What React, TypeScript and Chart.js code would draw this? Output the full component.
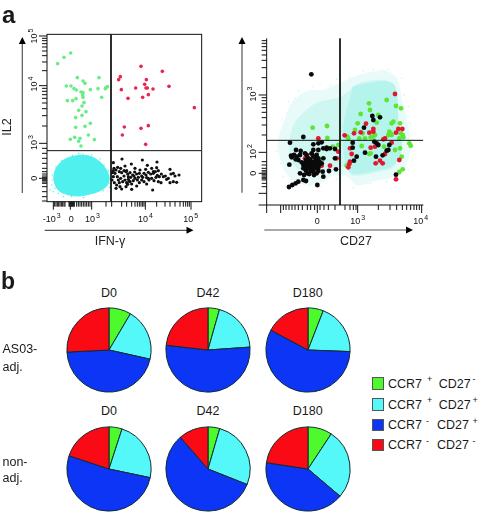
import React, { useEffect, useRef } from "react";
import { Chart, registerables } from "chart.js";

Chart.register(...registerables);

type P = [number, number];

// Values are display channels of the flow-cytometry plots (biexponential axes)
const IFN_LIL_GREEN: P[] = [[212,159],[192,172],[173,191],[232,233],[297,233],[249,243],[255,250],[199,258],[213,258],[222,266],[229,270],[271,269],[294,266],[316,266],[322,260],[318,263],[243,276],[249,278],[248,285],[249,292],[305,292],[228,296],[202,302],[218,302],[252,308],[246,318],[236,331],[258,335],[246,346],[227,353],[271,370],[255,379],[227,382],[265,405],[211,418],[224,412],[240,415],[236,424],[283,419],[243,438]];
const IFN_LIL_RED: P[] = [[423,199],[487,214],[361,230],[356,239],[439,239],[434,253],[507,259],[407,264],[438,264],[442,264],[459,267],[364,269],[445,284],[428,292],[384,295],[583,323],[373,381],[445,377],[423,385],[367,405],[437,433]];
const IFN_LIL_BLACK: P[] = [[340,512],[345,520],[340,530],[336,540],[343,548],[348,565],[360,560],[352,530],[358,515],[365,518],[372,512],[378,515],[383,522],[390,518],[398,525],[404,516],[410,522],[418,520],[425,528],[432,520],[438,525],[445,517],[452,522],[460,520],[466,515],[472,526],[478,530],[484,522],[490,530],[496,528],[500,538],[510,548],[520,545],[530,547],[505,535],[513,522],[525,528],[348,510],[355,540],[362,535],[368,545],[375,540],[380,548],[385,538],[390,545],[395,552],[400,542],[405,535],[412,540],[418,548],[425,540],[432,545],[440,552],[447,540],[455,535],[462,542],[468,532],[475,545],[483,548],[458,570],[395,568],[378,560],[365,567],[410,558],[385,530],[372,528],[392,532],[402,528],[415,532],[428,532],[358,548],[350,555],[337,518],[342,505],[362,505],[420,510],[437,508],[455,505],[470,503],[340,488],[366,477],[394,492],[427,480],[471,486],[353,502],[375,498],[405,505],[380,512],[442,496],[510,508],[520,520],[537,525],[460,515],[475,512],[445,535],[388,544],[383,553],[440,533]];
const IFN_LIL_CYAN_OUTLINE: P[] = [[240,465],[270,469],[295,482],[315,503],[327,530],[322,555],[300,572],[270,582],[235,588],[200,583],[175,570],[163,545],[163,520],[175,495],[200,475]];
const IFN_LIL_CYAN_STRAY: P[] = [[150,570],[155,555],[323,515],[330,550],[236,460],[300,477],[190,590],[158,540],[330,535],[250,462],[285,578],[160,575],[215,590],[326,512],[157,525],[168,500],[185,482],[218,466],[275,465],[312,495],[333,525],[328,562],[310,572],[250,593],[175,580],[165,565]];

const CD27_CCR7_CLOUD_OUTER: P[] = [[490,150],[520,165],[535,190],[545,240],[560,300],[570,370],[555,440],[520,470],[470,480],[410,495],[385,470],[340,465],[300,490],[240,490],[200,460],[180,410],[175,360],[195,300],[215,250],[260,215],[310,210],[360,190],[420,165]];
const CD27_CCR7_CLOUD_MID: P[] = [[490,180],[520,195],[530,250],[535,330],[545,380],[520,440],[470,455],[400,465],[375,440],[345,440],[300,455],[240,450],[215,420],[210,360],[225,310],[250,280],[290,250],[330,240],[365,230],[420,190]];
const CD27_CCR7_CLOUD_DENSE: P[] = [[400,200],[490,185],[525,200],[535,330],[545,380],[520,435],[470,450],[400,460],[380,440],[370,330]];
const CD27_CCR7_CLOUD_STRAY: P[] = [[170,395],[185,300],[205,245],[235,212],[300,195],[350,178],[430,152],[505,148],[545,175],[565,260],[580,380],[565,450],[500,485],[400,503],[300,500],[230,497],[190,470],[190,350],[200,280],[225,235],[280,200],[330,195],[390,172],[460,148],[530,175],[552,225],[570,310],[577,420],[540,462],[450,490],[350,478],[270,497],[215,478],[182,430]];
const CD27_CCR7_BLACK: P[] = [[210,368],[250,351],[228,390],[242,393],[213,407],[230,410],[235,420],[227,418],[208,434],[255,400],[260,405],[280,373],[295,370],[305,367],[280,390],[295,390],[310,385],[320,383],[330,385],[275,400],[290,405],[295,415],[280,410],[265,415],[270,425],[280,425],[290,430],[260,430],[250,435],[255,440],[265,440],[275,445],[285,445],[295,443],[245,427],[310,415],[305,430],[280,455],[290,460],[310,470],[262,460],[252,465],[240,460],[250,480],[258,483],[235,485],[227,490],[217,495],[207,501],[292,495],[327,453],[348,448],[345,415],[308,455],[270,435],[258,420],[300,433],[288,419],[273,435],[320,387],[345,387],[274,163],[457,288],[460,300],[480,292],[432,323],[398,368],[398,383],[463,365],[470,370],[475,375],[508,375],[505,390],[500,392],[488,406],[468,410],[435,398],[410,410],[402,422],[528,464],[262,437],[268,430],[275,432],[283,438],[262,445],[272,452],[280,442],[290,437],[298,425],[285,410],[270,418],[256,428],[250,445],[258,452],[282,465],[295,453],[268,462],[215,412],[222,405],[240,405]];
const CD27_CCR7_RED: P[] = [[525,222],[438,311],[422,337],[402,340],[374,346],[460,327],[460,335],[448,338],[535,327],[547,327],[528,338],[515,368],[495,355],[490,358],[465,380],[452,383],[390,385],[395,402],[390,425],[388,432],[385,442],[480,422],[488,430],[467,430],[495,402],[538,420],[528,478],[295,355],[255,415],[260,410],[275,403],[355,395],[350,415],[330,437],[305,437]];
const CD27_CCR7_GREEN: P[] = [[500,240],[447,250],[450,270],[528,258],[543,265],[422,282],[475,285],[470,308],[413,310],[515,310],[520,305],[540,310],[405,330],[428,340],[460,350],[508,335],[512,340],[505,345],[542,340],[548,345],[418,355],[435,355],[452,352],[465,345],[538,355],[550,352],[568,370],[572,377],[425,378],[492,380],[525,390],[540,385],[382,350],[385,355],[545,410],[548,448],[538,456],[380,437],[452,400],[448,402],[515,345],[278,323],[321,318],[322,354],[300,420],[338,380],[355,375]];

const IFN_X_MAJOR = [160, 211, 275, 436, 573];
const IFN_X_MINOR = [164,168,172,176,180,184,188,192,195,207,209,213,215,217,219,221,223,230,235,240,245,250,255,260,265,270,318,335,365,380,395,405,412,418,423,428,432,470,495,510,525,540,550,557,563,568];
const IFN_X_LABELS: [number, string, string][] = [[155, "-10", "3"], [214, "0", ""], [277, "10", "3"], [436, "10", "4"], [572, "10", "5"]];
const IL2_Y_MAJOR = [108, 257, 430, 535];
const IL2_Y_MINOR = [115,122,131,141,153,167,186,212,265,274,284,295,309,326,347,378,445,460,475,490,505,515,522,528,532,538,542,546,550,560,575,590,603];
const IL2_Y_LABELS: [number, string, string][] = [[108, "10", "5"], [252, "10", "4"], [428, "10", "3"], [535, "0", ""]];

const CD27_X_MAJOR = [140, 182, 292, 413, 605];
const CD27_X_MINOR = [190,198,207,216,225,235,247,262,272,284,300,312,325,345,375,390,400,408,475,510,530,547,560,572,582,590,598];
const CD27_X_LABELS: [number, string, string][] = [[292, "0", ""], [413, "10", "3"], [602, "10", "4"]];
const CCR7_Y_MAJOR = [225, 397, 460, 520, 555];
const CCR7_Y_MINOR = [62,70,80,91,105,121,143,173,233,242,252,263,277,293,315,345,425,435,445,452,456,464,468,472,476,480,490,500];
const CCR7_Y_LABELS: [number, string, string][] = [[222, "10", "3"], [395, "10", "2"], [460, "0", ""]];

const PIE_LABELS = ["CCR7+ CD27-", "CCR7+ CD27+", "CCR7- CD27+", "CCR7- CD27-"];
const PIE_COLORS = ["#4dfb2d", "#55f8f8", "#0d35f5", "#fa0a14"];
const AS03_D0 = [8.5, 20, 45.7, 25.8];
const AS03_D42 = [4.4, 19.5, 52.9, 23.2];
const AS03_D180 = [5.9, 19.7, 57.2, 17.2];
const NON_D0 = [5, 23.3, 51.8, 19.9];
const NON_D42 = [4.5, 26.5, 57.6, 11.4];
const NON_D180 = [9.3, 26.9, 41.2, 22.6];

const FONT = '"Liberation Sans", Arial, sans-serif';
const PTS = (a: P[]) => a.map(([x, y]) => ({ x, y }));

type AxisCfg = {
  xMajor: number[]; xMinor: number[]; xLabels: [number, string, string][];
  yMajor: number[]; yMinor: number[]; yLabels: [number, string, string][];
  box: boolean; xBase: number; yBase: number;
  xTitle: string; yTitle: string; xTitleAt: P; yTitleAt: P;
  xArrow: [number, number, number]; yArrow: [number, number, number];
  labelSize: number; maj: number; min: number;
};

function axisPlugin(c: AxisCfg) {
  return {
    id: "flowAxes",
    afterDraw(chart: any) {
      const { ctx, chartArea: a, scales } = chart;
      const x = scales.x, y = scales.y;
      ctx.save();
      ctx.strokeStyle = "#111";
      ctx.fillStyle = "#111";
      ctx.lineWidth = 1;
      if (c.box) ctx.strokeRect(a.left, a.top, a.width, a.height);
      else {
        ctx.beginPath();
        ctx.moveTo(a.left, a.top); ctx.lineTo(a.left, a.bottom); ctx.lineTo(a.right, a.bottom);
        ctx.stroke();
      }
      const mark = (list: number[], len: number, horiz: boolean) => {
        ctx.beginPath();
        for (const v of list) {
          if (horiz) { const p = x.getPixelForValue(v); ctx.moveTo(p, a.bottom); ctx.lineTo(p, a.bottom + len); }
          else { const p = y.getPixelForValue(v); ctx.moveTo(a.left, p); ctx.lineTo(a.left - len, p); }
        }
        ctx.stroke();
      };
      mark(c.xMajor, c.maj, true); mark(c.xMinor, c.min, true);
      mark(c.yMajor, c.maj, false); mark(c.yMinor, c.min, false);

      const label = (base: string, sup: string) => {
        ctx.font = `${c.labelSize}px ${FONT}`;
        const w = ctx.measureText(base).width;
        ctx.font = `${c.labelSize - 2}px ${FONT}`;
        const sw = sup ? ctx.measureText(sup).width + 1 : 0;
        const start = -(w + sw) / 2;
        ctx.font = `${c.labelSize}px ${FONT}`;
        ctx.textAlign = "left"; ctx.textBaseline = "alphabetic";
        ctx.fillText(base, start, 0);
        if (sup) {
          ctx.font = `${c.labelSize - 2}px ${FONT}`;
          ctx.fillText(sup, start + w + 1, -4);
        }
      };
      for (const [v, b, s] of c.xLabels) {
        ctx.save(); ctx.translate(x.getPixelForValue(v), c.xBase); label(b, s); ctx.restore();
      }
      for (const [v, b, s] of c.yLabels) {
        ctx.save(); ctx.translate(c.yBase, y.getPixelForValue(v)); ctx.rotate(-Math.PI / 2); label(b, s); ctx.restore();
      }

      // axis titles
      ctx.font = `12.5px ${FONT}`;
      ctx.textAlign = "center"; ctx.textBaseline = "middle"; ctx.fillStyle = "#222";
      ctx.fillText(c.xTitle, c.xTitleAt[0], c.xTitleAt[1]);
      ctx.save(); ctx.translate(c.yTitleAt[0], c.yTitleAt[1]); ctx.rotate(-Math.PI / 2);
      ctx.fillText(c.yTitle, 0, 0); ctx.restore();

      // arrows
      ctx.strokeStyle = "#555"; ctx.lineWidth = 1.2; ctx.fillStyle = "#000";
      const [ax0, ax1, ay] = c.xArrow;
      ctx.beginPath(); ctx.moveTo(ax0, ay); ctx.lineTo(ax1 - 4, ay); ctx.stroke();
      ctx.beginPath(); ctx.moveTo(ax1, ay); ctx.lineTo(ax1 - 7, ay - 3.5); ctx.lineTo(ax1 - 7, ay + 3.5); ctx.closePath(); ctx.fill();
      const [by0, by1, bx] = c.yArrow;
      ctx.beginPath(); ctx.moveTo(bx, by0); ctx.lineTo(bx, by1 + 4); ctx.stroke();
      ctx.beginPath(); ctx.moveTo(bx, by1); ctx.lineTo(bx - 3.5, by1 + 7); ctx.lineTo(bx + 3.5, by1 + 7); ctx.closePath(); ctx.fill();
      ctx.restore();
    },
  };
}

const gate = (pts: P[]) => ({ data: PTS(pts), showLine: true, borderColor: "#111", borderWidth: 1, pointRadius: 0, fill: false });
const dots = (pts: P[], color: string, r: number) => ({ data: PTS(pts), backgroundColor: color, borderWidth: 0, pointRadius: r, showLine: false });
const blob = (pts: P[], color: string) => ({
  data: PTS([...pts, pts[0]]), showLine: true, fill: "shape", backgroundColor: color, borderColor: color,
  borderWidth: 1, pointRadius: 0, tension: 0.35,
});

function Flow({ left, top, width, height, padding, datasets, xr, yr, cfg }: any) {
  const ref = useRef<HTMLCanvasElement>(null);
  useEffect(() => {
    const chart = new Chart(ref.current!, {
      type: "scatter",
      data: { datasets },
      options: {
        animation: false, responsive: false,
        layout: { padding },
        plugins: { legend: { display: false }, tooltip: { enabled: false } },
        scales: {
          x: { type: "linear", display: false, min: xr[0], max: xr[1] },
          y: { type: "linear", display: false, min: yr[0], max: yr[1], reverse: true },
        },
      },
      plugins: [axisPlugin(cfg)],
    } as any);
    return () => chart.destroy();
  }, []);
  return <canvas ref={ref} width={width} height={height} style={{ position: "absolute", left, top, width, height }} />;
}

function Pie({ cx, cy, values }: { cx: number; cy: number; values: number[] }) {
  const ref = useRef<HTMLCanvasElement>(null);
  const S = 90;
  useEffect(() => {
    const chart = new Chart(ref.current!, {
      type: "pie",
      data: { labels: PIE_LABELS, datasets: [{ data: values, backgroundColor: PIE_COLORS, borderColor: "#102a30", borderWidth: 1 }] },
      options: {
        animation: false, responsive: false,
        layout: { padding: 2.4 },
        plugins: { legend: { display: false }, tooltip: { enabled: false } },
      },
    } as any);
    return () => chart.destroy();
  }, []);
  return <canvas ref={ref} width={S} height={S} style={{ position: "absolute", left: cx - S / 2, top: cy - S / 2, width: S, height: S }} />;
}

const T = ({ x, y, size = 12.5, weight = 400, center = false, children }: any) => (
  <div style={{
    position: "absolute", left: x, top: y - 10, height: 20, lineHeight: "20px", fontFamily: FONT, fontSize: size, fontWeight: weight,
    color: "#1a1a1a", whiteSpace: "pre", transform: center ? "translateX(-50%)" : undefined,
  }}>{children}</div>
);

const LEGEND_ROWS: [string, string, string, number, number, number][] = [
  [PIE_COLORS[0], "+", "-", 383.3, 427, 438.7],
  [PIE_COLORS[1], "+", "+", 404, 427, 438.7],
  [PIE_COLORS[2], "-", "+", 424.7, 426, 437],
  [PIE_COLORS[3], "-", "-", 444.7, 426, 437],
];
const PIE_X = [109, 208, 307.7];
const PIE_Y = [350.3, 468.7];
const PIE_TITLE_Y = [292.7, 411.3];
const DAYS = ["D0", "D42", "D180"];

export default function App() {
  const leftData = [
    gate([[333, 103], [333, 605]]), gate([[141, 452], [605, 452]]),
    dots(IFN_LIL_BLACK, "#111", 1.6), dots(IFN_LIL_RED, "#e5274f", 1.8), dots(IFN_LIL_GREEN, "#68ec84", 1.8),
    dots(IFN_LIL_CYAN_STRAY, "#6ff0ee", 0.8), blob(IFN_LIL_CYAN_OUTLINE, "#4ff0ee"),
  ];
  const rightData = [
    gate([[360, 55], [360, 555]]), gate([[140, 361], [610, 361]]),
    dots(CD27_CCR7_BLACK, "#0a0a0a", 2.4), dots(CD27_CCR7_RED, "#e3172f", 2.4), dots(CD27_CCR7_GREEN, "#5fe432", 2.4),
    blob(CD27_CCR7_CLOUD_DENSE, "#b4f4ec"), blob(CD27_CCR7_CLOUD_MID, "#cff7f2"), blob(CD27_CCR7_CLOUD_OUTER, "#e8fbf9"),
    dots(CD27_CCR7_CLOUD_STRAY, "#c8f6f0", 0.8),
  ];
  const pieRows = [[AS03_D0, AS03_D42, AS03_D180], [NON_D0, NON_D42, NON_D180]];
  return (
    <div style={{ position: "absolute", left: 0, top: 0, width: 478, height: 512, background: "#fff", overflow: "hidden" }}>
      <Flow left={0} top={0} width={235} height={250}
        padding={{ left: 47, right: 235 - 201.67, top: 34.33, bottom: 250 - 201.67 }}
        datasets={leftData} xr={[141, 605]} yr={[103, 605]}
        cfg={{
          xMajor: IFN_X_MAJOR, xMinor: IFN_X_MINOR, xLabels: IFN_X_LABELS,
          yMajor: IL2_Y_MAJOR, yMinor: IL2_Y_MINOR, yLabels: IL2_Y_LABELS,
          box: true, xBase: 222, yBase: 37, xTitle: "IFN-\u03B3", yTitle: "IL2",
          xTitleAt: [110, 241.5], yTitleAt: [7.5, 127],
          xArrow: [44.7, 193.5, 230.3], yArrow: [193, 37, 22.3],
          labelSize: 9, maj: 8, min: 5,
        }} />
      <Flow left={235} top={0} width={243} height={250}
        padding={{ left: 31.67, right: 243 - 188.33, top: 38.33, bottom: 45 }}
        datasets={rightData} xr={[140, 610]} yr={[55, 555]}
        cfg={{
          xMajor: CD27_X_MAJOR, xMinor: CD27_X_MINOR, xLabels: CD27_X_LABELS,
          yMajor: CCR7_Y_MAJOR, yMinor: CCR7_Y_MINOR, yLabels: CCR7_Y_LABELS,
          box: false, xBase: 224, yBase: 21, xTitle: "CD27", yTitle: "CCR7",
          xTitleAt: [121, 242], yTitleAt: [-9, 116.7],
          xArrow: [29.3, 178, 230], yArrow: [192.7, 37, 7],
          labelSize: 9, maj: 8, min: 5,
        }} />
      <T x={2} y={15} size={24} weight={700}>a</T>
      <T x={1} y={281} size={23} weight={700}>b</T>
      <T x={2.5} y={349}>AS03-</T>
      <T x={2.5} y={366.7}>adj.</T>
      <T x={2.5} y={461.7}>non-</T>
      <T x={2.5} y={478.3}>adj.</T>
      {pieRows.map((row, r) => row.map((vals, c) => (
        <React.Fragment key={`${r}-${c}`}>
          <T x={PIE_X[c]} y={PIE_TITLE_Y[r]} center>{DAYS[c]}</T>
          <Pie cx={PIE_X[c]} cy={PIE_Y[r]} values={vals} />
        </React.Fragment>
      )))}
      {LEGEND_ROWS.map(([col, s1, s2, y, sx, cx], i) => (
        <React.Fragment key={i}>
          <div style={{ position: "absolute", left: 371.5, top: y - 6, width: 10.5, height: 10.5, background: col, border: "1px solid #555" }} />
          <T x={388} y={y + 0.5}>CCR7</T>
          <T x={sx} y={y - 4} size={9}>{s1}</T>
          <T x={cx} y={y + 0.5}>CD27</T>
          <T x={472.5} y={y - 4} size={9}>{s2}</T>
        </React.Fragment>
      ))}
    </div>
  );
}
